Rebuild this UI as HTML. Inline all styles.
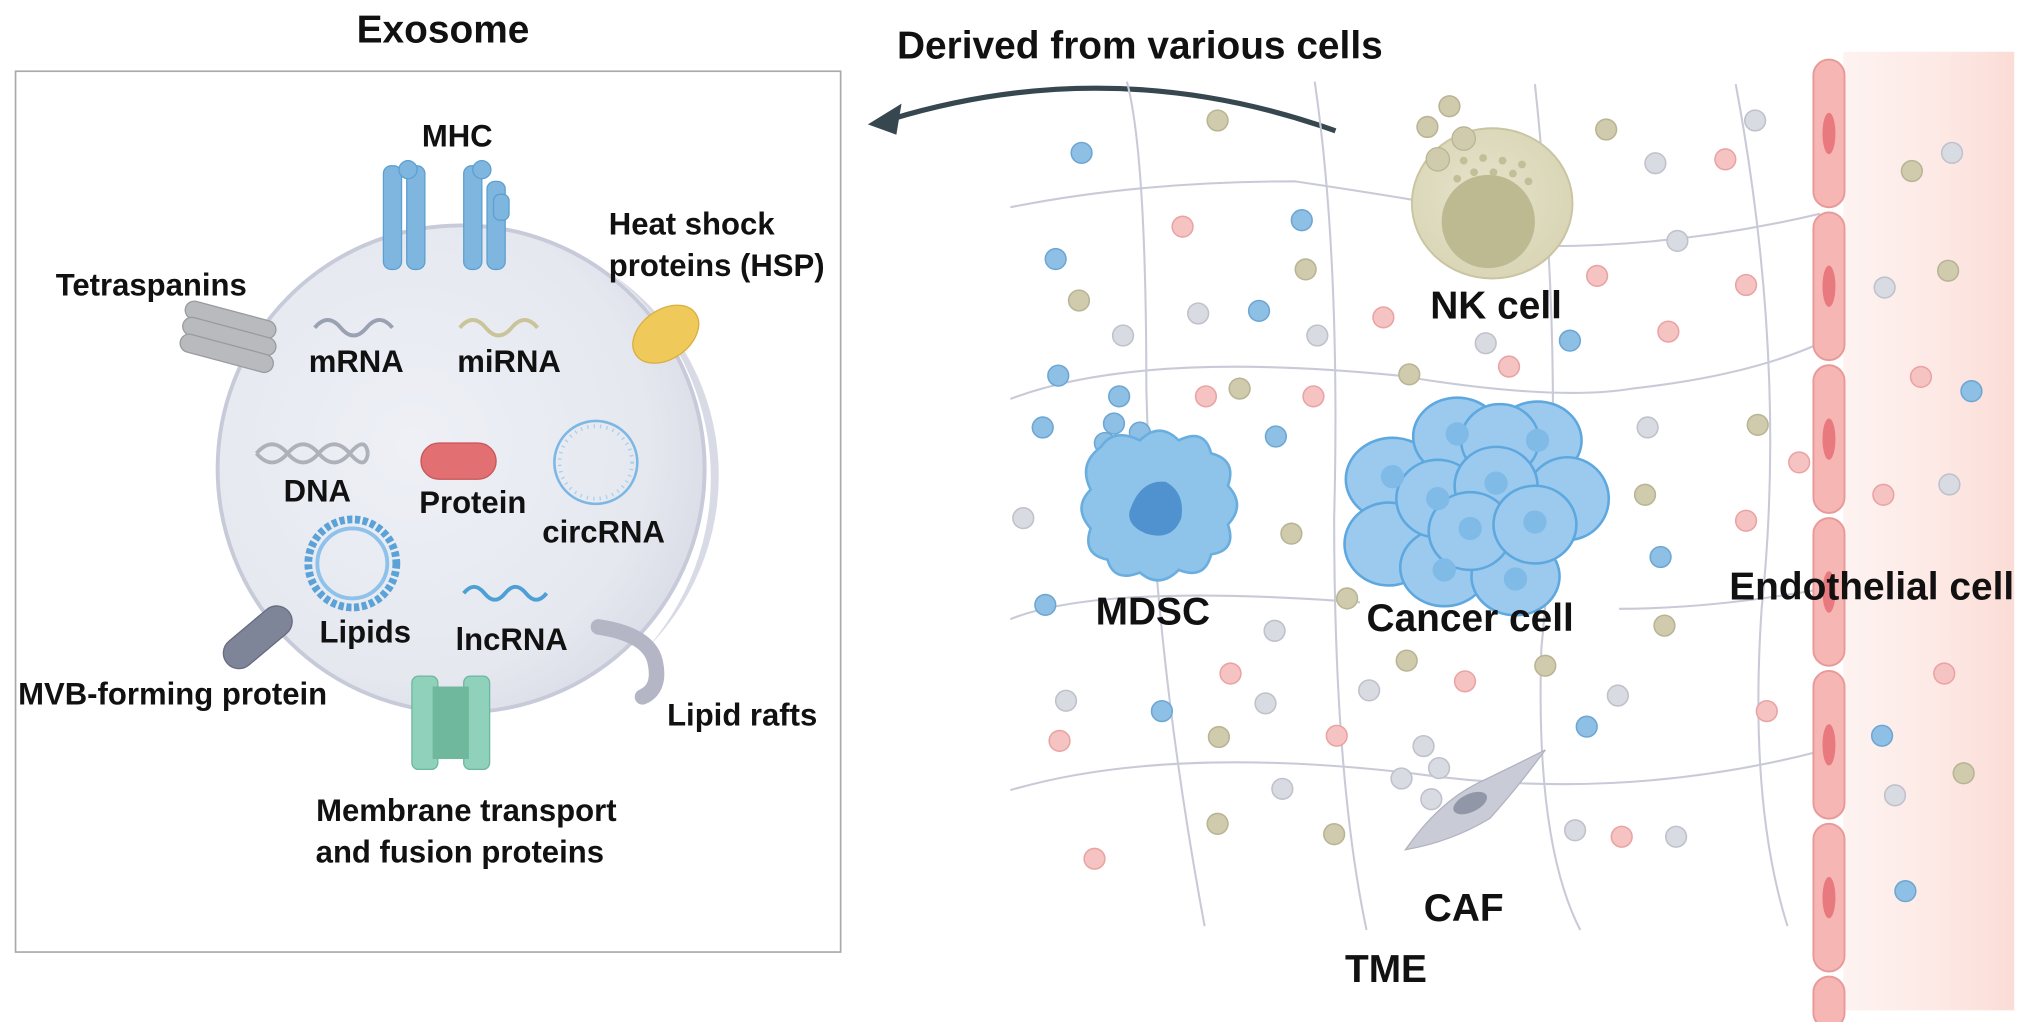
<!DOCTYPE html>
<html><head><meta charset="utf-8"><style>
html,body{margin:0;padding:0;background:#fff;}
svg{display:block;}
text{font-family:"Liberation Sans",Arial,sans-serif;font-weight:bold;fill:#111;}
</style></head><body>
<svg width="2031" height="1022" viewBox="0 0 2031 1022" xmlns="http://www.w3.org/2000/svg">
<defs>
<linearGradient id="pinkbg" x1="0" x2="1" y1="0" y2="0">
<stop offset="0" stop-color="#fdf3f1"/><stop offset="0.6" stop-color="#fde8e4"/><stop offset="1" stop-color="#fbdcd6"/></linearGradient>
<radialGradient id="exo" cx="0.4" cy="0.45" r="0.6">
<stop offset="0" stop-color="#eef0f6"/><stop offset="0.8" stop-color="#e6e8f0"/><stop offset="1" stop-color="#dcdfe8"/></radialGradient>
<radialGradient id="nk" cx="0.45" cy="0.45" r="0.6"><stop offset="0" stop-color="#e6e3cc"/><stop offset="1" stop-color="#d8d4b4"/></radialGradient>
</defs>
<g transform="scale(1.2953)">
<!-- Exosome panel -->
<text x="342" y="33" font-size="30" text-anchor="middle">Exosome</text>
<rect x="12" y="55" width="637" height="680" fill="#fff" stroke="#aaa" stroke-width="1.3"/>
<circle cx="356" cy="362" r="188" fill="url(#exo)" stroke="#c7cad8" stroke-width="3"/>
<path d="M470 210 A188 188 0 0 1 500 500 A200 200 0 0 0 470 210Z" fill="#d8dbe6"/>
<!-- MHC -->
<g fill="#7fb6e0" stroke="#5d9fd0" stroke-width="1">
<rect x="296" y="128" width="14" height="80" rx="6"/><rect x="314" y="128" width="14" height="80" rx="6"/>
<circle cx="315" cy="131" r="7"/>
<rect x="358" y="128" width="14" height="80" rx="6"/><rect x="376" y="140" width="14" height="68" rx="6"/>
<circle cx="372" cy="131" r="7"/><rect x="381" y="150" width="12" height="20" rx="5"/>
</g>
<text x="353" y="113" font-size="24" text-anchor="middle">MHC</text>
<!-- Tetraspanins -->
<g fill="#b9babd" stroke="#9a9b9f">
<rect x="142" y="240" width="72" height="14" rx="7" transform="rotate(15 178 247)"/>
<rect x="140" y="253" width="74" height="14" rx="7" transform="rotate(15 178 260)"/>
<rect x="138" y="266" width="74" height="14" rx="7" transform="rotate(15 176 273)"/>
</g>
<text x="43" y="228" font-size="24">Tetraspanins</text>
<!-- HSP -->
<ellipse cx="514" cy="258" rx="28" ry="19" transform="rotate(-35 514 258)" fill="#f0c95b" stroke="#d9ae3c"/>
<text x="470" y="181" font-size="24">Heat shock</text>
<text x="470" y="213" font-size="24">proteins (HSP)</text>
<!-- RNAs -->
<path d="M243 253 q10 -12 20 0 t20 0 t20 0" fill="none" stroke="#9aa1b3" stroke-width="3"/>
<path d="M355 253 q10 -12 20 0 t20 0 t20 0" fill="none" stroke="#c9c49a" stroke-width="3"/>
<text x="275" y="287" font-size="24" text-anchor="middle">mRNA</text>
<text x="393" y="287" font-size="24" text-anchor="middle">miRNA</text>
<path d="M198 350 q12 -14 24 0 t24 0 t24 0 t14 0 M198 350 q12 14 24 0 t24 0 t24 0 t14 0" fill="none" stroke="#aeb1ba" stroke-width="3"/>
<text x="245" y="387" font-size="24" text-anchor="middle">DNA</text>
<rect x="325" y="342" width="58" height="28" rx="14" fill="#e26f72" stroke="#c85558"/>
<text x="365" y="396" font-size="24" text-anchor="middle">Protein</text>
<circle cx="460" cy="357" r="32" fill="none" stroke="#7db7e3" stroke-width="2"/>
<circle cx="460" cy="357" r="28" fill="none" stroke="#a9d0ee" stroke-width="3" stroke-dasharray="1 4"/>
<text x="466" y="419" font-size="24" text-anchor="middle">circRNA</text>
<circle cx="272" cy="435" r="34" fill="none" stroke="#5aa2d8" stroke-width="6" stroke-dasharray="4 2"/>
<circle cx="272" cy="435" r="27" fill="none" stroke="#8ec2ea" stroke-width="3"/>
<text x="282" y="496" font-size="24" text-anchor="middle">Lipids</text>
<path d="M358 458 q8 -10 16 0 t16 0 t16 0 t16 0" fill="none" stroke="#4d9fd6" stroke-width="3"/>
<text x="395" y="502" font-size="24" text-anchor="middle">lncRNA</text>
<!-- MVB protein -->
<rect x="168" y="480" width="62" height="24" rx="12" transform="rotate(-40 199 492)" fill="#7e8598" stroke="#666c7d"/>
<text x="14" y="544" font-size="24">MVB-forming protein</text>
<!-- lipid rafts -->
<path d="M462 484 q40 6 44 28 q4 20 -10 26" fill="none" stroke="#b4b6c6" stroke-width="12" stroke-linecap="round"/>
<text x="515" y="560" font-size="24">Lipid rafts</text>
<!-- membrane transport -->
<rect x="318" y="522" width="20" height="72" rx="5" fill="#8fd1bb" stroke="#6cb89e"/>
<rect x="358" y="522" width="20" height="72" rx="5" fill="#8fd1bb" stroke="#6cb89e"/>
<rect x="334" y="530" width="28" height="56" fill="#6fb79d"/>
<text x="360" y="634" font-size="24" text-anchor="middle">Membrane transport</text>
<text x="355" y="666" font-size="24" text-anchor="middle">and fusion proteins</text>

<!-- Right: TME -->
<text x="880" y="45" font-size="30" text-anchor="middle">Derived from various cells</text>
<path d="M1031 101 Q860 40 688 92" fill="none" stroke="#37474f" stroke-width="4"/>
<path d="M670 96 L696 80 L692 104 Z" fill="#37474f"/>
<rect x="1423" y="40" width="132" height="740" fill="url(#pinkbg)"/>
<!-- grid -->
<g fill="none" stroke="#c9cad8" stroke-width="1.6">
<path d="M870 63 Q885 120 885 300 Q890 500 930 715"/>
<path d="M1015 63 Q1035 200 1030 400 Q1030 600 1055 718"/>
<path d="M1185 65 Q1210 300 1190 500 Q1185 650 1220 718"/>
<path d="M1340 65 Q1380 280 1360 470 Q1350 620 1380 715"/>
<path d="M780 160 Q880 140 1000 140 Q1100 155 1120 160 M1195 190 Q1300 190 1405 165"/>
<path d="M780 308 Q880 270 1080 290 Q1200 310 1260 300 Q1350 290 1405 265"/>
<path d="M780 478 Q850 450 1050 465 M1250 470 Q1320 470 1405 455"/>
<path d="M780 610 Q900 575 1090 597 Q1250 620 1405 580"/>
</g>
<!-- endothelial -->
<g fill="#f5b6b4" stroke="#e89a99" stroke-width="1.5">
<rect x="1400" y="46" width="24" height="114" rx="12"/><rect x="1400" y="164" width="24" height="114" rx="12"/>
<rect x="1400" y="282" width="24" height="114" rx="12"/><rect x="1400" y="400" width="24" height="114" rx="12"/>
<rect x="1400" y="518" width="24" height="114" rx="12"/><rect x="1400" y="636" width="24" height="114" rx="12"/>
<rect x="1400" y="754" width="24" height="40" rx="12"/>
</g>
<g fill="#e8797f">
<ellipse cx="1412" cy="103" rx="5" ry="16"/><ellipse cx="1412" cy="221" rx="5" ry="16"/><ellipse cx="1412" cy="339" rx="5" ry="16"/>
<ellipse cx="1412" cy="457" rx="5" ry="16"/><ellipse cx="1412" cy="575" rx="5" ry="16"/><ellipse cx="1412" cy="693" rx="5" ry="16"/>
</g>
<!-- dots -->
<g stroke-width="1.2">
<g fill="#8ec0e6" stroke="#6ea6d2">
<circle cx="835" cy="118" r="8"/><circle cx="815" cy="200" r="8"/><circle cx="972" cy="240" r="8"/><circle cx="1005" cy="170" r="8"/><circle cx="817" cy="290" r="8"/><circle cx="805" cy="330" r="8"/><circle cx="985" cy="337" r="8"/><circle cx="1212" cy="263" r="8"/><circle cx="1522" cy="302" r="8"/><circle cx="807" cy="467" r="8"/><circle cx="897" cy="549" r="8"/><circle cx="1225" cy="561" r="8"/><circle cx="1282" cy="430" r="8"/><circle cx="1453" cy="568" r="8"/><circle cx="1471" cy="688" r="8"/>
<circle cx="864" cy="306" r="8"/><circle cx="860" cy="327" r="8"/><circle cx="880" cy="334" r="8"/><circle cx="853" cy="342" r="8"/>
</g>
<g fill="#cfcbac" stroke="#b8b494">
<circle cx="940" cy="93" r="8"/><circle cx="1008" cy="208" r="8"/><circle cx="833" cy="232" r="8"/><circle cx="957" cy="300" r="8"/><circle cx="1088" cy="289" r="8"/><circle cx="1240" cy="100" r="8"/><circle cx="1357" cy="328" r="8"/><circle cx="1270" cy="382" r="8"/><circle cx="997" cy="412" r="8"/><circle cx="1040" cy="462" r="8"/><circle cx="1086" cy="510" r="8"/><circle cx="1193" cy="514" r="8"/><circle cx="1285" cy="483" r="8"/><circle cx="941" cy="569" r="8"/><circle cx="940" cy="636" r="8"/><circle cx="1030" cy="644" r="8"/><circle cx="1476" cy="132" r="8"/><circle cx="1504" cy="209" r="8"/><circle cx="1516" cy="597" r="8"/><circle cx="1119" cy="82" r="8"/><circle cx="1102" cy="98" r="8"/>
</g>
<g fill="#f6c3c3" stroke="#eaa3a3">
<circle cx="913" cy="175" r="8"/><circle cx="1068" cy="245" r="8"/><circle cx="1165" cy="283" r="8"/><circle cx="1233" cy="213" r="8"/><circle cx="1288" cy="256" r="8"/><circle cx="1348" cy="220" r="8"/><circle cx="1332" cy="123" r="8"/><circle cx="931" cy="306" r="8"/><circle cx="1014" cy="306" r="8"/><circle cx="1389" cy="357" r="8"/><circle cx="1348" cy="402" r="8"/><circle cx="950" cy="520" r="8"/><circle cx="1131" cy="526" r="8"/><circle cx="818" cy="572" r="8"/><circle cx="1032" cy="568" r="8"/><circle cx="1364" cy="549" r="8"/><circle cx="1501" cy="520" r="8"/><circle cx="1252" cy="646" r="8"/><circle cx="845" cy="663" r="8"/><circle cx="1483" cy="291" r="8"/><circle cx="1454" cy="382" r="8"/>
</g>
<g fill="#d9dbe2" stroke="#bfc1cb">
<circle cx="867" cy="259" r="8"/><circle cx="925" cy="242" r="8"/><circle cx="1017" cy="259" r="8"/><circle cx="1147" cy="265" r="8"/><circle cx="1295" cy="186" r="8"/><circle cx="1355" cy="93" r="8"/><circle cx="1278" cy="126" r="8"/><circle cx="1272" cy="330" r="8"/><circle cx="790" cy="400" r="8"/><circle cx="984" cy="487" r="8"/><circle cx="823" cy="541" r="8"/><circle cx="977" cy="543" r="8"/><circle cx="1057" cy="533" r="8"/><circle cx="1249" cy="537" r="8"/><circle cx="1099" cy="576" r="8"/><circle cx="1082" cy="601" r="8"/><circle cx="1111" cy="593" r="8"/><circle cx="990" cy="609" r="8"/><circle cx="1216" cy="641" r="8"/><circle cx="1294" cy="646" r="8"/><circle cx="1455" cy="222" r="8"/><circle cx="1507" cy="118" r="8"/><circle cx="1505" cy="374" r="8"/><circle cx="1463" cy="614" r="8"/><circle cx="1105" cy="617" r="8"/>
</g>
</g>
<!-- NK cell -->
<ellipse cx="1152" cy="157" rx="62" ry="58" fill="url(#nk)" stroke="#c9c5a2" stroke-width="1.5"/>
<circle cx="1149" cy="171" r="36" fill="#bdb991"/>
<g fill="#c2be97"><circle cx="1130" cy="124" r="3"/><circle cx="1145" cy="122" r="3"/><circle cx="1160" cy="124" r="3"/><circle cx="1138" cy="133" r="3"/><circle cx="1153" cy="133" r="3"/><circle cx="1168" cy="134" r="3"/><circle cx="1125" cy="138" r="3"/><circle cx="1175" cy="127" r="3"/><circle cx="1180" cy="140" r="3"/></g>
<circle cx="1110" cy="123" r="9" fill="#cfcbac" stroke="#b8b494"/><circle cx="1130" cy="107" r="9" fill="#cfcbac" stroke="#b8b494"/>
<text x="1155" y="246" font-size="30" text-anchor="middle">NK cell</text>
<!-- MDSC -->
<path d="M850 345 Q860 330 880 340 Q895 325 910 340 Q930 330 935 350 Q955 355 948 375 Q962 390 948 405 Q955 425 935 428 Q930 448 910 440 Q895 455 880 442 Q860 450 855 432 Q835 428 842 408 Q828 392 842 378 Q832 358 850 345Z" fill="#8ec3ea" stroke="#6aaee0" stroke-width="2"/>
<path d="M872 395 Q880 370 900 372 Q915 380 912 400 Q905 418 885 412 Q870 406 872 395Z" fill="#4f92cf"/>
<text x="890" y="482" font-size="30" text-anchor="middle">MDSC</text>
<!-- cancer cells -->
<g fill="#9bcaee" stroke="#5ea8df" stroke-width="2">
<ellipse cx="1075" cy="370" rx="36" ry="32"/><ellipse cx="1125" cy="337" rx="34" ry="30"/><ellipse cx="1187" cy="340" rx="34" ry="30"/><ellipse cx="1210" cy="385" rx="32" ry="32"/>
<ellipse cx="1072" cy="420" rx="34" ry="32"/><ellipse cx="1115" cy="438" rx="34" ry="30"/><ellipse cx="1170" cy="445" rx="34" ry="30"/>
<ellipse cx="1158" cy="340" rx="30" ry="28"/><ellipse cx="1110" cy="385" rx="32" ry="30"/><ellipse cx="1155" cy="375" rx="32" ry="30"/><ellipse cx="1135" cy="410" rx="32" ry="30"/><ellipse cx="1185" cy="405" rx="32" ry="30"/>
</g>
<g fill="#7fbbe6"><circle cx="1075" cy="368" r="9"/><circle cx="1125" cy="335" r="9"/><circle cx="1187" cy="340" r="9"/><circle cx="1110" cy="385" r="9"/><circle cx="1155" cy="373" r="9"/><circle cx="1135" cy="408" r="9"/><circle cx="1185" cy="403" r="9"/><circle cx="1115" cy="440" r="9"/><circle cx="1170" cy="447" r="9"/></g>
<text x="1135" y="487" font-size="30" text-anchor="middle">Cancer cell</text>
<!-- CAF -->
<path d="M1085 656 Q1110 620 1140 605 Q1165 593 1193 579 Q1170 610 1150 632 Q1120 650 1085 656Z" fill="#c9cbd6" stroke="#b0b3c0"/>
<ellipse cx="1135" cy="620" rx="14" ry="7" transform="rotate(-25 1135 620)" fill="#9297a8"/>
<text x="1130" y="711" font-size="30" text-anchor="middle">CAF</text>
<text x="1070" y="758" font-size="30" text-anchor="middle">TME</text>
<text x="1445" y="463" font-size="30" text-anchor="middle">Endothelial cell</text>
</g>
</svg>
</body></html>
